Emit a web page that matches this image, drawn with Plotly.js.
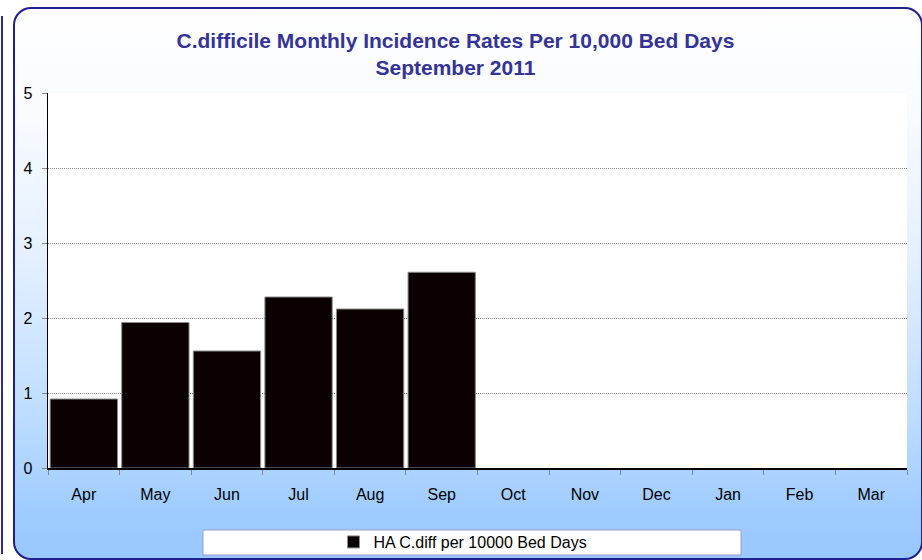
<!DOCTYPE html>
<html>
<head>
<meta charset="utf-8">
<script src="https://cdn.plot.ly/plotly-3.0.1.min.js"></script>
<style>
html,body{margin:0;padding:0;background:#ffffff;width:922px;height:560px;overflow:hidden;}
#stub{position:absolute;left:0;top:16px;width:1px;height:538px;border-right:2px solid #2b2b99;}
#frame{position:absolute;left:13px;top:7px;width:906px;height:549px;border:2px solid #1f1f8f;border-radius:18px;
 background:linear-gradient(to bottom,#ffffff 0%,#f9fbff 18%,#e4f0ff 45%,#bcdcff 75%,#9ecbff 92%,#99c8ff 100%);}
#chart{position:absolute;left:0;top:0;width:922px;height:560px;}
</style>
</head>
<body>
<div id="stub"></div>
<div id="frame"></div>
<div id="chart"></div>
<script>
const months = ['Apr','May','Jun','Jul','Aug','Sep','Oct','Nov','Dec','Jan','Feb','Mar'];
const rates = [0.92, 1.94, 1.56, 2.28, 2.12, 2.61, null, null, null, null, null, null];
const seriesName = 'HA C.diff per 10000 Bed Days';
const titleText = 'C.difficile Monthly Incidence Rates Per 10,000 Bed Days<br>September 2011';
const yTicks = [0,1,2,3,4,5];

const trace = {
  type:'bar', x: months, y: rates, name: seriesName,
  marker:{color:'#0b0101', line:{color:'#8a8a8a', width:1}},
  showlegend:true, hoverinfo:'skip'
};

const layout = {
  width:922, height:560,
  paper_bgcolor:'rgba(0,0,0,0)', plot_bgcolor:'#ffffff',
  margin:{l:48, r:15, t:93, b:92, autoexpand:false},
  font:{family:'"Liberation Sans", Arial, sans-serif', color:'#000000', size:16},
  title:{text:titleText, font:{family:'"Liberation Sans", Arial, sans-serif', size:21, color:'#333399', weight:'bold'},
    xref:'container', x:0.494, xanchor:'center', yref:'container', y:0.915, yanchor:'top'},
  bargap:0.06,
  xaxis:{type:'category', showline:true, linecolor:'#000000', linewidth:1.5, ticks:'outside', ticklen:5,
    tickcolor:'#888888', tickson:'boundaries', showgrid:false, tickfont:{size:16}, ticklabelstandoff:11,
    fixedrange:true},
  yaxis:{range:[0,5], tickvals:yTicks, showline:true, linecolor:'#000000', linewidth:1.5, ticks:'outside', ticklen:5,
    tickcolor:'#888888', showgrid:true, gridcolor:'#8c8c8c', griddash:'1px,1px', gridwidth:1, zeroline:false,
    tickfont:{size:16}, ticklabelstandoff:6, fixedrange:true},
  legend:{orientation:'h', x:0.4831, xanchor:'center', y:(468-542)/375, yanchor:'middle', bgcolor:'rgba(0,0,0,0)',
    font:{size:16}, itemclick:false, itemdoubleclick:false},
  shapes:[{type:'rect', xref:'paper', yref:'paper', x0:(203-48)/859, x1:(741-48)/859, y0:(468-555)/375, y1:(468-530)/375,
    fillcolor:'#ffffff', line:{color:'#9c9cd0', width:1}, layer:'below'}]
};

Plotly.newPlot('chart', [trace], layout, {staticPlot:true, displayModeBar:false});
</script>
</body>
</html>
